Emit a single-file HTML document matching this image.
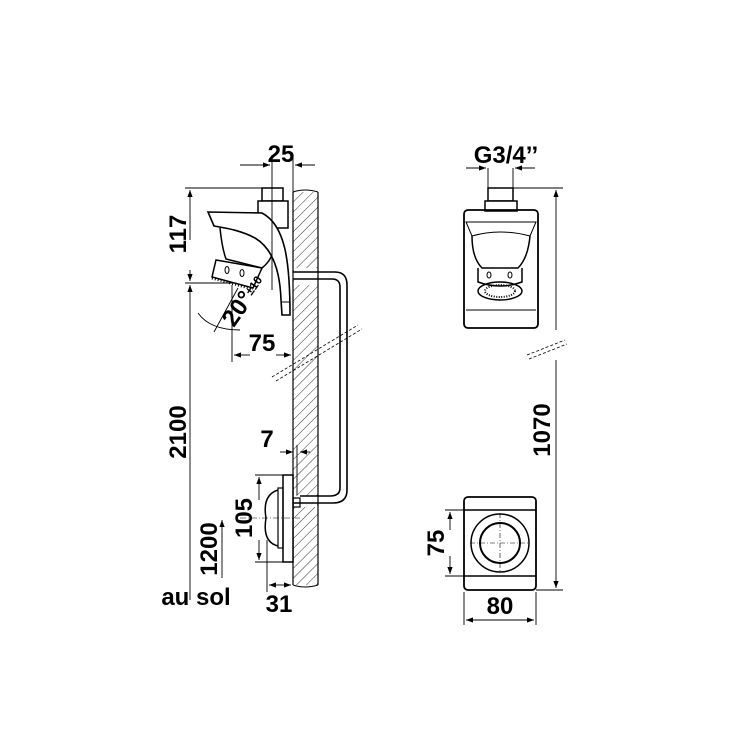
<!DOCTYPE html>
<html><head><meta charset="utf-8"><style>html,body{margin:0;padding:0;background:#fff}svg{display:block}</style></head><body>
<svg width="750" height="750" viewBox="0 0 750 750" xmlns="http://www.w3.org/2000/svg" font-family="Liberation Sans, sans-serif" font-weight="bold">
<defs>
<pattern id="h" width="7" height="7" patternUnits="userSpaceOnUse" patternTransform="rotate(45)">
<line x1="0" y1="0" x2="0" y2="7" stroke="#000" stroke-width="0.8"/>
</pattern>
<marker id="a" markerWidth="8" markerHeight="6" refX="8" refY="3" orient="auto"><path d="M0,0 L8,3 L0,6z" fill="#000"/></marker>
</defs>
<g stroke="#000" fill="none">
<rect x="293" y="192" width="25" height="393" fill="url(#h)" stroke="none"/>
<rect x="294" y="268" width="23" height="17" fill="#fff" stroke="none"/>
<rect x="294" y="496" width="23" height="11" fill="#fff" stroke="none"/>
<line x1="293" y1="192" x2="293" y2="585" stroke-width="1.2"/>
<line x1="318" y1="192" x2="318" y2="585" stroke-width="1.2"/>
<path d="M293,192 Q305,188 318,192" stroke-width="1"/>
<path d="M293,585 Q305,589 318,585" stroke-width="1"/>
<path d="M293,272 L335,272 Q347,272 347,285 L347,490 Q347,503 333,503 L293,503" stroke-width="1.6"/>
<path d="M293,279 L332,279 Q340,279 340,287 L340,488 Q340,496 330,496 L300,496" stroke-width="1.6"/>
<line x1="272" y1="377" x2="358" y2="325" stroke-dasharray="3,2" stroke-width="0.8"/>
<line x1="276" y1="381" x2="362" y2="329" stroke-dasharray="3,2" stroke-width="0.8"/>
<line x1="527" y1="355" x2="565" y2="340" stroke-dasharray="3,2" stroke-width="0.8"/>
<line x1="529" y1="359" x2="567" y2="344" stroke-dasharray="3,2" stroke-width="0.8"/>
<!-- shower head -->
<rect x="262" y="188" width="21" height="13" stroke-width="1.5" fill="#fff"/>
<rect x="258" y="201" width="30" height="27" stroke-width="1.5" fill="#fff"/>
<path d="M220,228 Q222,248 226,259 L262,268 Q272,260 273,250" stroke-width="1.5" fill="#fff"/>
<path d="M208,212 L262,213 C285,225 290,260 290,315 L282,315 L281,300 C280,270 272,248 255,238 C240,230 225,228 214,226 Z" stroke-width="1.6" fill="#fff"/>
<path d="M216,260 L262,268 L253,288 L212,277 Z" stroke-width="1.5" fill="#fff"/>
<ellipse cx="227" cy="270" rx="2" ry="3.5" stroke-width="1"/>
<ellipse cx="242" cy="273" rx="2" ry="3.5" stroke-width="1"/>
<path d="M212,278 L253,289" stroke-width="3" stroke-dasharray="1,2"/>
<line x1="281" y1="302" x2="290" y2="302" stroke-width="1"/>
<!-- bottom valve -->
<rect x="283" y="475" width="10" height="87" stroke-width="1.5" fill="#fff"/>
<rect x="278" y="488" width="5" height="60" stroke-width="1.2"/>
<path d="M278,490 Q262,495 266,518 Q262,542 278,546" stroke-width="1.5"/>
<rect x="293" y="498" width="7" height="9" stroke-width="1.2"/>
<line x1="240" y1="518" x2="300" y2="518" stroke-width="0.6" stroke-dasharray="6,2,1,2"/>
<g stroke-width="0.9">
<line x1="272" y1="155" x2="272" y2="290"/>
<line x1="293" y1="155" x2="293" y2="192"/>
<line x1="240" y1="165" x2="270" y2="165" marker-end="url(#a)"/>
<line x1="315" y1="165" x2="295" y2="165" marker-end="url(#a)"/>
<line x1="185" y1="188" x2="262" y2="188"/>
<line x1="185" y1="283" x2="235" y2="283"/>
<line x1="190" y1="240" x2="190" y2="190" marker-end="url(#a)"/>
<line x1="190" y1="270" x2="190" y2="281" marker-end="url(#a)"/>
<line x1="190" y1="296" x2="190" y2="285" marker-end="url(#a)"/>
<line x1="190" y1="296" x2="190" y2="600"/>
<line x1="232" y1="285" x2="232" y2="362"/>
<line x1="250" y1="355" x2="234" y2="355" marker-end="url(#a)"/>
<line x1="276" y1="355" x2="291" y2="355" marker-end="url(#a)"/>
<line x1="238" y1="288" x2="214" y2="332"/>
<path d="M198,313 Q210,330 240,330" />
<line x1="280" y1="452" x2="293" y2="452" marker-end="url(#a)"/>
<line x1="310" y1="452" x2="300" y2="452" marker-end="url(#a)"/>
<line x1="297" y1="445" x2="297" y2="495"/>
<line x1="255" y1="475" x2="290" y2="475"/>
<line x1="255" y1="562" x2="290" y2="562"/>
<line x1="259" y1="500" x2="259" y2="477" marker-end="url(#a)"/>
<line x1="259" y1="540" x2="259" y2="560" marker-end="url(#a)"/>
<line x1="222" y1="540" x2="222" y2="520" marker-end="url(#a)"/>
<line x1="222" y1="540" x2="222" y2="578"/>
<line x1="267" y1="540" x2="267" y2="592"/>
<line x1="280" y1="585" x2="269" y2="585" marker-end="url(#a)"/>
<line x1="280" y1="585" x2="291" y2="585" marker-end="url(#a)"/>
</g>
<!-- right front view -->
<rect x="488" y="188" width="25" height="13" stroke-width="1.5" fill="#fff"/>
<rect x="485" y="201" width="32" height="10" stroke-width="1.5" fill="#fff"/>
<rect x="464" y="210" width="74" height="118" rx="4" stroke-width="1.8"/>
<path d="M466,222 L536,222 L530,236 Q500,228 472,236 Z" stroke-width="1"/>
<path d="M472,236 Q472,258 482,268 L518,268 Q528,258 530,236" stroke-width="1.5"/>
<path d="M478,268 L478,282 Q500,290 522,282 L522,268" stroke-width="1.5"/>
<ellipse cx="500" cy="291" rx="22" ry="9" stroke-width="1.5"/>
<ellipse cx="500" cy="291" rx="15" ry="6" stroke-width="2" stroke-dasharray="1,1.5"/>
<ellipse cx="489" cy="275" rx="2" ry="3" stroke-width="1"/>
<ellipse cx="510" cy="275" rx="2" ry="3" stroke-width="1"/>
<line x1="466" y1="310" x2="536" y2="310" stroke-width="1"/>
<rect x="464" y="497" width="72" height="93" rx="4" stroke-width="1.8"/>
<line x1="464" y1="510" x2="536" y2="510" stroke-width="1.5"/>
<line x1="464" y1="576" x2="536" y2="576" stroke-width="1.5"/>
<circle cx="500" cy="543" r="29" stroke-width="1.5"/>
<circle cx="500" cy="543" r="20" stroke-width="2"/>
<line x1="470" y1="543" x2="530" y2="543" stroke-width="0.6" stroke-dasharray="5,2,1,2"/>
<line x1="500" y1="513" x2="500" y2="573" stroke-width="0.6" stroke-dasharray="5,2,1,2"/>
<g stroke-width="0.9">
<line x1="488" y1="168" x2="488" y2="188"/>
<line x1="513" y1="168" x2="513" y2="188"/>
<line x1="466" y1="168" x2="486" y2="168" marker-end="url(#a)"/>
<line x1="535" y1="168" x2="515" y2="168" marker-end="url(#a)"/>
<line x1="513" y1="188" x2="563" y2="188"/>
<line x1="536" y1="590" x2="563" y2="590"/>
<line x1="556" y1="330" x2="556" y2="190" marker-end="url(#a)"/>
<line x1="556" y1="360" x2="556" y2="588" marker-end="url(#a)"/>
<line x1="445" y1="510" x2="464" y2="510"/>
<line x1="445" y1="576" x2="464" y2="576"/>
<line x1="450" y1="530" x2="450" y2="512" marker-end="url(#a)"/>
<line x1="450" y1="556" x2="450" y2="574" marker-end="url(#a)"/>
<line x1="464" y1="592" x2="464" y2="625"/>
<line x1="536" y1="592" x2="536" y2="625"/>
<line x1="500" y1="620" x2="466" y2="620" marker-end="url(#a)"/>
<line x1="500" y1="620" x2="534" y2="620" marker-end="url(#a)"/>
</g>
</g>
<g fill="#000" font-size="24">
<text x="281" y="162" text-anchor="middle">25</text>
<text x="262" y="351" text-anchor="middle">75</text>
<text x="267" y="447" text-anchor="middle">7</text>
<text x="279" y="612" text-anchor="middle">31</text>
<text x="196" y="605" text-anchor="middle">au sol</text>
<text transform="translate(186,234) rotate(-90)" text-anchor="middle">117</text>
<text transform="translate(186,432) rotate(-90)" text-anchor="middle">2100</text>
<text transform="translate(252,518) rotate(-90)" text-anchor="middle">105</text>
<text transform="translate(217,549) rotate(-90)" text-anchor="middle">1200</text>
<text transform="translate(250,305) rotate(-55)" text-anchor="middle">20°<tspan font-size="12" dy="-4">±10</tspan></text>
<text x="506" y="163" text-anchor="middle">G3/4’’</text>
<text transform="translate(550,430) rotate(-90)" text-anchor="middle">1070</text>
<text transform="translate(444,543) rotate(-90)" text-anchor="middle">75</text>
<text x="500" y="614" text-anchor="middle">80</text>
</g>
</svg>
</body></html>
